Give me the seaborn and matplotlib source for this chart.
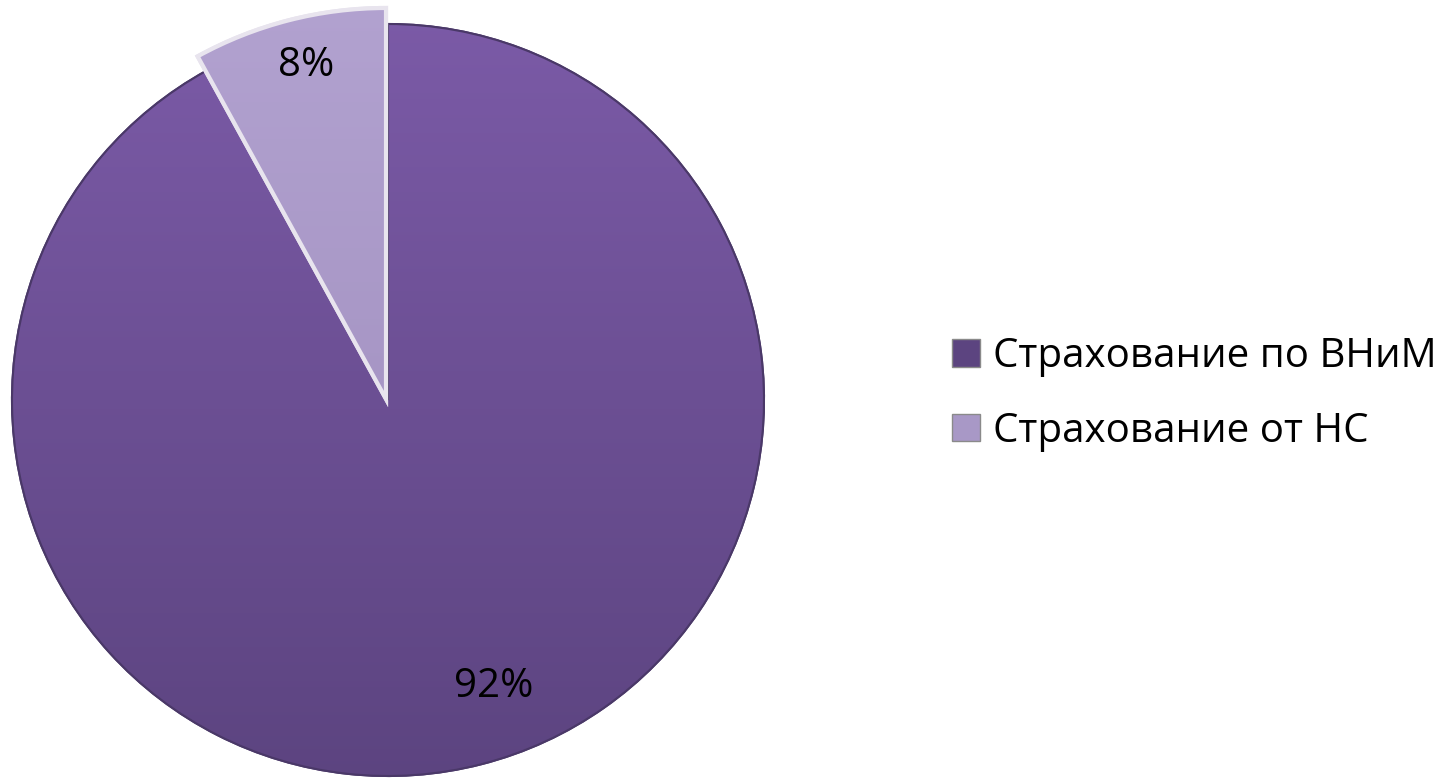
import matplotlib
matplotlib.use("Agg")
import matplotlib.pyplot as plt
import numpy as np
import seaborn as sns

categories = ["Страхование по ВНиМ", "Страхование от НС"]
values = [92, 8]
pct_labels = ["92%", "8%"]
colors = ["#6C4F95", "#A898C6"]
grad_top = ["#7C5BA8", "#B2A2D0"]
grad_bot = ["#5C4480", "#9C8ABA"]

sns.set_style("white")
plt.rcParams['font.family'] = ['Open Sans', 'DejaVu Sans']
plt.rcParams['text.color'] = 'black'

W, H = 1449, 778
fig = plt.figure(figsize=(W / 100, H / 100), dpi=100)
ax = fig.add_axes([0, 0, 1, 1])

cx, cy, R = 388, H - 400, 376
wedges, _ = ax.pie(values, startangle=90, counterclock=False, colors=colors,
                   radius=R, center=(cx, cy), frame=True,
                   wedgeprops=dict(linewidth=1.5))
ax.set_xlim(0, W)
ax.set_ylim(0, H)
ax.set_aspect("equal")
ax.axis("off")

# the small slice is drawn slightly larger, as in the original
wedges[1].set_radius(391)
wedges[1].set_center((cx - 2, cy + 1))
wedges[0].set_edgecolor("#4A3868")
wedges[1].set_edgecolor("#E8E4EE")
wedges[1].set_linewidth(3)
wedges[1].set_zorder(wedges[0].get_zorder() + 1)

# vertical gradient shading clipped to each wedge
for w, ct, cb in zip(wedges, grad_top, grad_bot):
    top = np.array(matplotlib.colors.to_rgb(ct))
    bot = np.array(matplotlib.colors.to_rgb(cb))
    t = np.linspace(0, 1, 256)[:, None]
    img = (top * (1 - t) + bot * t)[:, None, :]
    im = ax.imshow(img, extent=[cx - R - 30, cx + R + 30, cy - R - 10, cy + R + 30],
                   aspect="auto", origin="upper", zorder=w.get_zorder() + 0.1)
    im.set_clip_path(w)
    edge = matplotlib.patches.Wedge(w.center, w.r, w.theta1, w.theta2,
                                    facecolor="none", edgecolor=w.get_edgecolor(),
                                    linewidth=w.get_linewidth(), zorder=w.get_zorder() + 0.2)
    ax.add_patch(edge)
ax.set_xlim(0, W)
ax.set_ylim(0, H)

ax.text(494, H - 687, pct_labels[0], ha="center", va="center", fontsize=29, color="black", zorder=10)
ax.text(306, H - 66, pct_labels[1], ha="center", va="center", fontsize=29, color="black", zorder=10)

handles = [matplotlib.patches.Patch(facecolor=c, edgecolor="#8A8A8A") for c in grad_bot[:1] + colors[1:]]
leg = fig.legend(handles, categories, loc="center left", bbox_to_anchor=(936 / W, 1 - 394 / H),
                 frameon=False, fontsize=29, handlelength=0.69, handleheight=0.69,
                 handletextpad=0.33, labelspacing=0.85, borderaxespad=0)
for t in leg.get_texts():
    t.set_color("black")

fig.savefig("out.png", dpi=100)
